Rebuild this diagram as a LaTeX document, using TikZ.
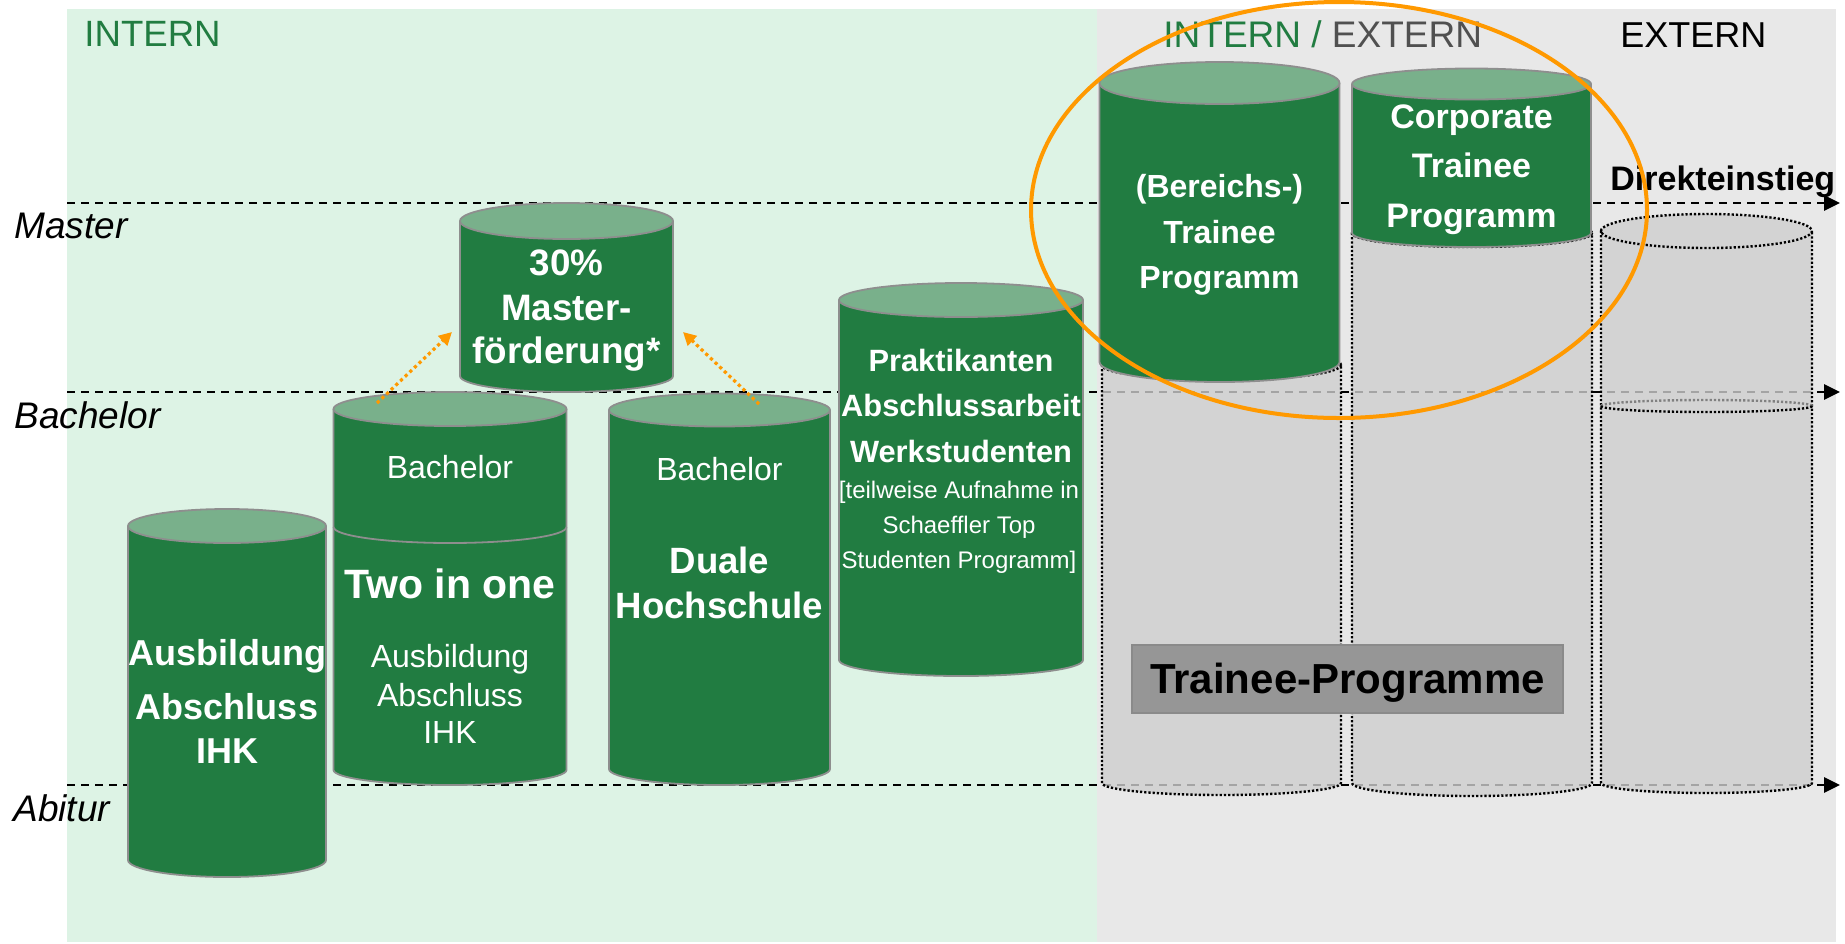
\documentclass[tikz,border=0pt]{standalone}
\usepackage{fontspec}
\setmainfont{Liberation Sans}
\usetikzlibrary{arrows.meta}
\definecolor{bgg}{HTML}{DDF3E5}
\definecolor{bgr}{HTML}{E8E8E8}
\definecolor{cg}{HTML}{217C41}
\definecolor{ctop}{HTML}{79B08B}
\definecolor{cout}{HTML}{8E8E8E}
\definecolor{cgray}{RGB}{206,206,206}
\definecolor{orng}{HTML}{FF9900}
\definecolor{dgray}{HTML}{505050}
\definecolor{boxg}{HTML}{969696}
\definecolor{boxb}{HTML}{8A8A8A}
\newcommand\greencyl[6]{%
  \path[fill=cg] (#1-#2,#3) -- (#1-#2,#4) arc[start angle=180,end angle=0,x radius=#2,y radius=#6] -- (#1+#2,#3) -- cycle;
  \draw[cyledge] (#1-#2,#3) -- (#1-#2,#4) arc[start angle=180,end angle=0,x radius=#2,y radius=#6] -- (#1+#2,#3);
  \path[fill=ctop,cyledge,draw=cout] (#1,#3) ellipse[x radius=#2,y radius=#5];
}
\newcommand\graycyl[6]{%
  \path[fill=cgray,fill opacity=0.8] (#1-#2,#3) arc[start angle=180,end angle=0,x radius=#2,y radius=#5] -- (#1+#2,#4) arc[start angle=0,end angle=180,x radius=#2,y radius=#6] -- cycle;
  \path[fill=cgray,fill opacity=0.8] (#1,#3) ellipse[x radius=#2,y radius=#5];
  \draw[dotline] (#1-#2,#3) -- (#1-#2,#4) arc[start angle=180,end angle=0,x radius=#2,y radius=#6] -- (#1+#2,#3);
  \draw[dotline] (#1,#3) ellipse[x radius=#2,y radius=#5];
}
\begin{document}
\begin{tikzpicture}[x=0.5pt,y=-0.5pt,
  level/.style={line width=1.4pt,dash pattern=on 4pt off 3pt,-{Triangle[length=8pt,width=7.5pt]}},
  cyledge/.style={draw=cout,line width=0.9pt},
  dotline/.style={draw=black,line width=1.2pt,dash pattern=on 1.1pt off 1pt},
  oarrow/.style={orng,line width=1.6pt,dash pattern=on 1.6pt off 1.6pt,-{Triangle[length=6.5pt,width=6.5pt]}},
  tw/.style={text=white,anchor=base,inner sep=0pt},
  tb/.style={text=black,anchor=base,inner sep=0pt},
  lab/.style={anchor=base west,inner sep=0pt,font=\fontsize{18.5}{20}\selectfont\itshape}]
\useasboundingbox (0,0) rectangle (1845,943);
\fill[white] (0,0) rectangle (1845,943);
\fill[bgg] (67,9) rectangle (1097,942);
\fill[bgr] (1097,9) rectangle (1836,942);

% level lines
\coordinate (m0) at (67,203); \coordinate (m1) at (1840,203);
\coordinate (b0) at (67,392); \coordinate (b1) at (1840,392);
\coordinate (t0) at (67,785); \coordinate (t1) at (1840,785);
\draw[level] (m0) -- (m1);
\draw[level] (b0) -- (b1);
\draw[level] (t0) -- (t1);

% gray dotted cylinders
\graycyl{1221.5}{119.5}{365}{783}{15}{12}
\graycyl{1472}{120}{233}{783}{14}{13}
\graycyl{1706.5}{105.5}{231}{783}{17}{10}
\draw[dotline,draw=gray] (1706.5-105.5,406) arc[start angle=180,end angle=360,x radius=105.5,y radius=6];
\draw[dotline] (1706.5-105.5,406) arc[start angle=180,end angle=0,x radius=105.5,y radius=6];

% green cylinders
\greencyl{227}{99}{526}{860}{17}{17}
\greencyl{450}{116.5}{409}{770}{17}{15}
\draw[cyledge] (450-116.5,527) arc[start angle=180,end angle=0,x radius=116.5,y radius=16];
\greencyl{719.5}{110.5}{410}{769}{16.5}{16}
\greencyl{961}{122}{300}{660}{17}{16}
\greencyl{566.5}{106.5}{221}{376}{18}{16}
\greencyl{1219.5}{120}{83}{362}{21}{20}
\greencyl{1471.5}{119.5}{84}{233}{15.5}{14}

% trainee box
\node[fill=boxg,draw=boxb,line width=0.8pt,minimum width=215.5pt,minimum height=34pt,inner sep=0pt] (box) at (1347.5,679) {};
\node[tb,font=\fontsize{21}{21}\selectfont\bfseries] (boxt) at (1347.5,693) {Trainee-Programme};

% texts in cylinders
\begin{scope}[every node/.append style={font=\fontsize{18}{18}\selectfont\bfseries}]
\node[tw] (a1) at (227,665) {Ausbildung};
\node[tw] (a2) at (227,719) {Abschluss};
\node[tw] (a3) at (227,763) {IHK};
\end{scope}
\node[tw,font=\fontsize{16}{16}\selectfont] (w1) at (450,478) {Bachelor};
\node[tw,font=\fontsize{20.5}{20}\selectfont\bfseries] (w2) at (450,598) {Two in one};
\node[tw,font=\fontsize{16}{16}\selectfont] (w3) at (450,667) {Ausbildung};
\node[tw,font=\fontsize{16}{16}\selectfont] (w4) at (450,706) {Abschluss};
\node[tw,font=\fontsize{16}{16}\selectfont] (w5) at (450,743) {IHK};
\node[tw,font=\fontsize{16}{16}\selectfont] (d1) at (719.5,480) {Bachelor};
\node[tw,font=\fontsize{18.3}{18}\selectfont\bfseries] (d2) at (719.5,573) {Duale};
\node[tw,font=\fontsize{18.3}{18}\selectfont\bfseries] (d3) at (719.5,618) {Hochschule};
\begin{scope}[every node/.append style={font=\fontsize{15.4}{15}\selectfont\bfseries}]
\node[tw] (p1) at (961,371) {Praktikanten};
\node[tw] (p2) at (961,416) {Abschlussarbeit};
\node[tw] (p3) at (961,462) {Werkstudenten};
\end{scope}
\begin{scope}[every node/.append style={font=\fontsize{12}{12}\selectfont}]
\node[tw] (p4) at (959,498) {[teilweise Aufnahme in};
\node[tw] (p5) at (959,533) {Schaeffler Top};
\node[tw] (p6) at (959,568) {Studenten Programm]};
\end{scope}
\begin{scope}[every node/.append style={font=\fontsize{18.4}{18}\selectfont\bfseries}]
\node[tw] (f1) at (566.5,275) {30\%};
\node[tw] (f2) at (566.5,320) {Master-};
\node[tw] (f3) at (566.5,363) {förderung*};
\end{scope}
\begin{scope}[every node/.append style={font=\fontsize{16}{16}\selectfont\bfseries}]
\node[tw] (r1) at (1219.5,197) {(Bereichs-)};
\node[tw] (r2) at (1219.5,243) {Trainee};
\node[tw] (r3) at (1219.5,288) {Programm};
\end{scope}
\begin{scope}[every node/.append style={font=\fontsize{17}{17}\selectfont\bfseries}]
\node[tw] (c1) at (1471.5,128) {Corporate};
\node[tw] (c2) at (1471.5,177) {Trainee};
\node[tw] (c3) at (1471.5,227) {Programm};
\end{scope}

% labels
\node[lab] (lm) at (14,238) {Master};
\node[lab] (lb) at (14,428) {Bachelor};
\node[lab] (la) at (13,821) {Abitur};
\node[anchor=base west,inner sep=0pt,text=cg,font=\fontsize{18.3}{18}\selectfont] (hi) at (84,46) {INTERN};
\node[anchor=base west,inner sep=0pt,font=\fontsize{18.5}{18}\selectfont] (hie) at (1163,47) {\textcolor{cg}{INTERN /} \textcolor{dgray}{EXTERN}};
\node[anchor=base west,inner sep=0pt,font=\fontsize{18}{18}\selectfont] (he) at (1620,47) {EXTERN};
\node[anchor=base west,inner sep=0pt,font=\fontsize{17}{17}\selectfont\bfseries] (dk) at (1610,190) {Direkteinstieg};

% orange ellipse
\draw[orng,line width=2pt] (1339,210) ellipse[x radius=308,y radius=208];

% orange arrows
\coordinate (a1s) at (377,403); \coordinate (a1e) at (452,332);
\coordinate (a2s) at (759,404); \coordinate (a2e) at (683,332);
\draw[oarrow] (a1s) -- (a1e);
\draw[oarrow] (a2s) -- (a2e);
\end{tikzpicture}
\end{document}
